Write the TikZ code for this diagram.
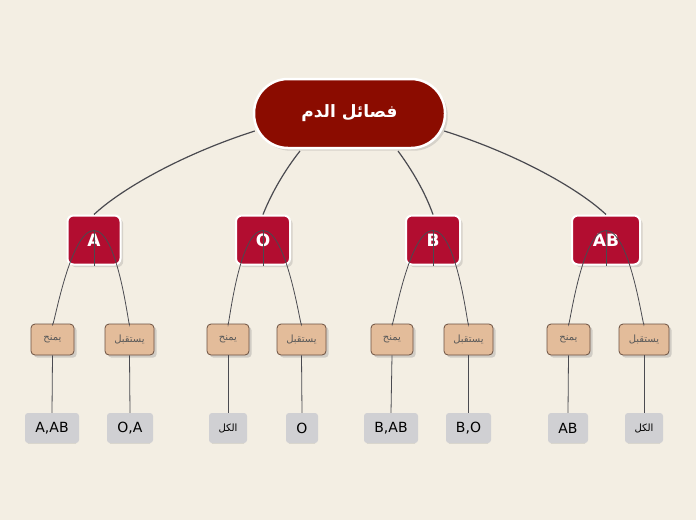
\documentclass[tikz,border=0pt]{standalone}
\usepackage{fontspec}
\setmainfont{DejaVu Sans}
\newfontfamily\arabicfont[Script=Arabic]{DejaVu Sans}
\TeXXeTstate=1
\usetikzlibrary{shadows}
\definecolor{bg}{HTML}{F3EEE3}
\definecolor{rootc}{HTML}{8B0C00}
\definecolor{typec}{HTML}{B20D30}
\definecolor{actc}{HTML}{E3BC9A}
\definecolor{actb}{HTML}{6B5040}
\definecolor{leafc}{HTML}{D0D0D3}
\definecolor{linec}{HTML}{4A4A50}
\begin{document}
\begin{tikzpicture}[x=1pt,y=-1pt,
 rootbox/.style={fill=rootc,draw=white,line width=2.5pt,rounded corners=34pt,minimum width=191pt,minimum height=69pt,text=white,font=\arabicfont\bfseries\fontsize{17}{20}\selectfont,drop shadow={opacity=0.25}},
 typebox/.style={fill=typec,draw=white,line width=2pt,rounded corners=6pt,minimum height=49pt,text=white,font=\bfseries\fontsize{17}{20}\selectfont,drop shadow={opacity=0.25}},
 actbox/.style={fill=actc,draw=actb,line width=0.8pt,rounded corners=4pt,minimum height=31pt,text=black!65,font=\arabicfont\fontsize{10}{12}\selectfont,drop shadow={opacity=0.3}},
 leafbox/.style={fill=leafc,rounded corners=3pt,minimum height=30pt,inner xsep=2pt,text=black,font=\fontsize{14}{16}\selectfont,path picture={\draw[black!70,line width=1pt] (path picture bounding box.south west)--(path picture bounding box.south east);}},
 conn/.style={draw=linec,line width=1.2pt},
 thinl/.style={draw=linec,line width=0.8pt}]
\fill[bg] (0,0) rectangle (696,520);
\useasboundingbox (0,0) rectangle (696,520);
\node[rootbox] (root) at (349.5,113.5) {\beginR فصائل الدم\endR};
\node[typebox,minimum width=53pt] (A) at (94,240) {A};
\node[typebox,minimum width=54pt] (O) at (263,240) {O};
\node[typebox,minimum width=54pt] (B) at (433,240) {B};
\node[typebox,minimum width=68pt] (AB) at (606,240) {AB};
\begin{scope}[on background layer/.style={}]
\end{scope}
% level 2
\node[actbox,minimum width=43pt] (Ag) at (52.5,339.5) {\beginR يمنح\endR};
\node[actbox,minimum width=49pt] (Ar) at (129.5,339.5) {\beginR يستقبل\endR};
\node[actbox,minimum width=42pt] (Og) at (228,339.5) {\beginR يمنح\endR};
\node[actbox,minimum width=49pt] (Or) at (301.5,339.5) {\beginR يستقبل\endR};
\node[actbox,minimum width=42pt] (Bg) at (392,339.5) {\beginR يمنح\endR};
\node[actbox,minimum width=49pt] (Br) at (468.5,339.5) {\beginR يستقبل\endR};
\node[actbox,minimum width=43pt] (ABg) at (568.5,339.5) {\beginR يمنح\endR};
\node[actbox,minimum width=50pt] (ABr) at (644,339.5) {\beginR يستقبل\endR};
% leaves
\node[leafbox,minimum width=54pt] (Ag1) at (52,428) {A,AB};
\node[leafbox,minimum width=46pt] (Ar1) at (130,428) {O,A};
\node[leafbox,minimum width=38pt,font=\arabicfont\fontsize{10}{12}\selectfont] (Og1) at (228,428) {\beginR الكل\endR};
\node[leafbox,minimum width=32pt] (Or1) at (302,428) {O};
\node[leafbox,minimum width=54pt] (Bg1) at (391,428) {B,AB};
\node[leafbox,minimum width=45pt] (Br1) at (468.5,428) {B,O};
\node[leafbox,minimum width=40pt] (ABg1) at (568,428) {AB};
\node[leafbox,minimum width=38pt,font=\arabicfont\fontsize{10}{12}\selectfont] (ABr1) at (644,428) {\beginR الكل\endR};
% connectors root
\draw[conn] (root.west |- 0,131) ++(2,0) .. controls (180,155) and (120,190) .. (A.north);
\draw[conn] (300,151) .. controls (285,170) and (272,192) .. (O.north);
\draw[conn] (398,151) .. controls (412,170) and (425,192) .. (B.north);
\draw[conn] (root.east |- 0,131) ++(-2,0) .. controls (520,155) and (580,190) .. (AB.north);
% level1 -> level2
\foreach \t/\g/\r in {A/Ag/Ar,O/Og/Or,B/Bg/Br,AB/ABg/ABr}{
 \coordinate (\t j) at ([yshift=35pt]\t.south);
 \draw[thinl] (\t.south) -- (\t j);
 \draw[thinl] (\t j) .. controls ([xshift=-25pt]\t j) and ([yshift=-12pt]\g.north) .. (\g.north);
 \draw[thinl] (\t j) .. controls ([xshift=25pt]\t j) and ([yshift=-12pt]\r.north) .. (\r.north);
 \draw[thinl] (\g.south) -- (\g1.north);
 \draw[thinl] (\r.south) -- (\r1.north);
}
\end{tikzpicture}
\end{document}
